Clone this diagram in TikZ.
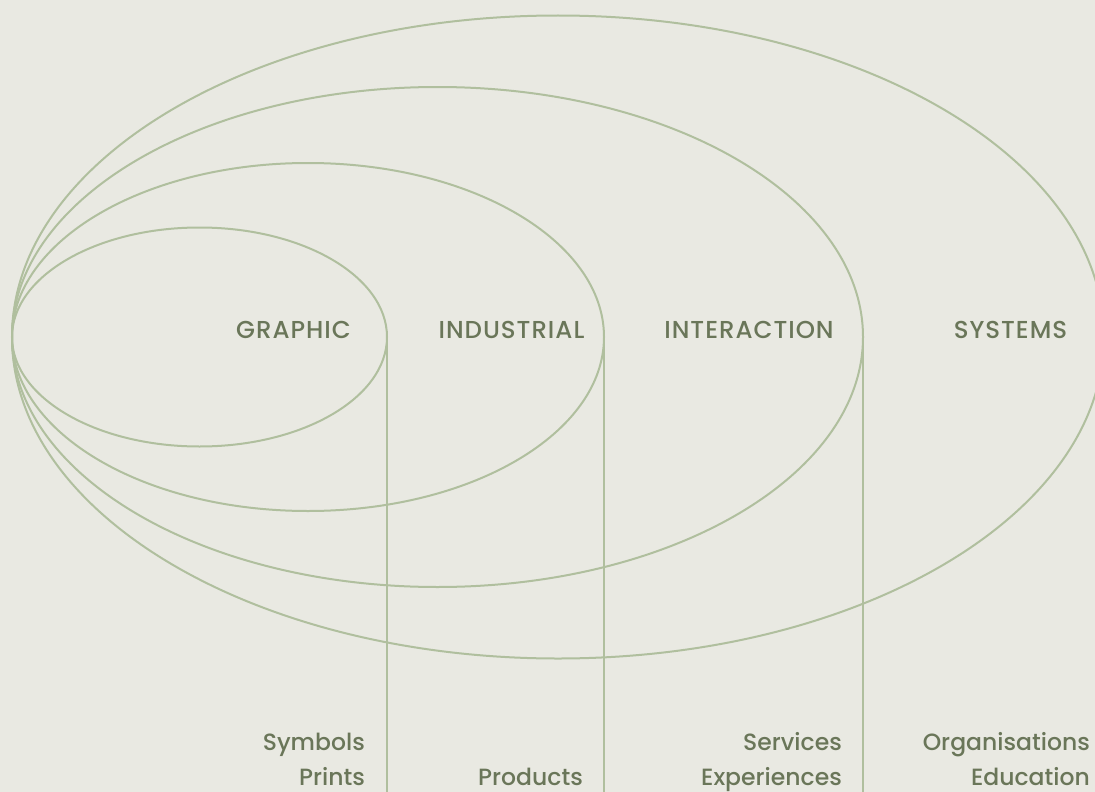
\documentclass[tikz,border=0pt]{standalone}
\usepackage{fontspec}
\setmainfont{Poppins}[UprightFont={* Medium}]
\newfontfamily\capsfont{Poppins}[UprightFont={* Medium}, LetterSpace=4]
\usetikzlibrary{shapes.geometric}
\definecolor{paper}{HTML}{E9E9E2}
\definecolor{sage}{HTML}{B0BF9E}
\definecolor{olive}{HTML}{6A7659}
\tikzset{
  ring/.style={ellipse, draw=sage, line width=2pt, inner sep=0pt, outer sep=0pt},
  rule/.style={draw=sage, line width=2pt},
  field/.style={text=olive, font=\capsfont\fontsize{24.5}{28}\selectfont, anchor=base, inner sep=0pt},
  item/.style={text=olive, font=\fontsize{23.5}{27}\selectfont, anchor=base east, inner sep=0pt}
}
\begin{document}
\begin{tikzpicture}[x=1pt,y=-1pt]
  \fill[paper] (0,0) rectangle (1095,792);
  \useasboundingbox (0,0) rectangle (1095,792);
  \clip (0,0) rectangle (1095,792);

  % nested fields, all touching at the left
  \node[ring, minimum width=1092pt, minimum height=643pt] (systems) at (558,337) {};
  \node[ring, minimum width=851pt, minimum height=500pt] (interaction) at (437.5,337) {};
  \node[ring, minimum width=592pt, minimum height=348pt] (industrial) at (308,337) {};
  \node[ring, minimum width=375pt, minimum height=219pt] (graphic) at (199.5,337) {};

  % field names
  \node[field] (tgraphic) at (293.5,338.5) {GRAPHIC};
  \node[field] (tindustrial) at (511.5,338.5) {INDUSTRIAL};
  \node[field] (tinteraction) at (749,338.5) {INTERACTION};
  \node[field] (tsystems) at (1010.5,338.5) {SYSTEMS};

  % dividers dropping from the right edge of each field
  \coordinate (gbot) at (graphic.east |- 0,792);
  \coordinate (ibot) at (industrial.east |- 0,792);
  \coordinate (xbot) at (interaction.east |- 0,792);
  \draw[rule] (graphic.east) -- (gbot);
  \draw[rule] (industrial.east) -- (ibot);
  \draw[rule] (interaction.east) -- (xbot);

  % outputs of each field
  \node[item] (symbols) at (365,750) {Symbols};
  \node[item] (prints) at (365,785) {Prints};
  \node[item] (products) at (583,785) {Products};
  \node[item] (services) at (842,750) {Services};
  \node[item] (experiences) at (842,785) {Experiences};
  \node[item] (organisations) at (1090,750) {Organisations};
  \node[item] (education) at (1090,785) {Education};
\end{tikzpicture}
\end{document}
